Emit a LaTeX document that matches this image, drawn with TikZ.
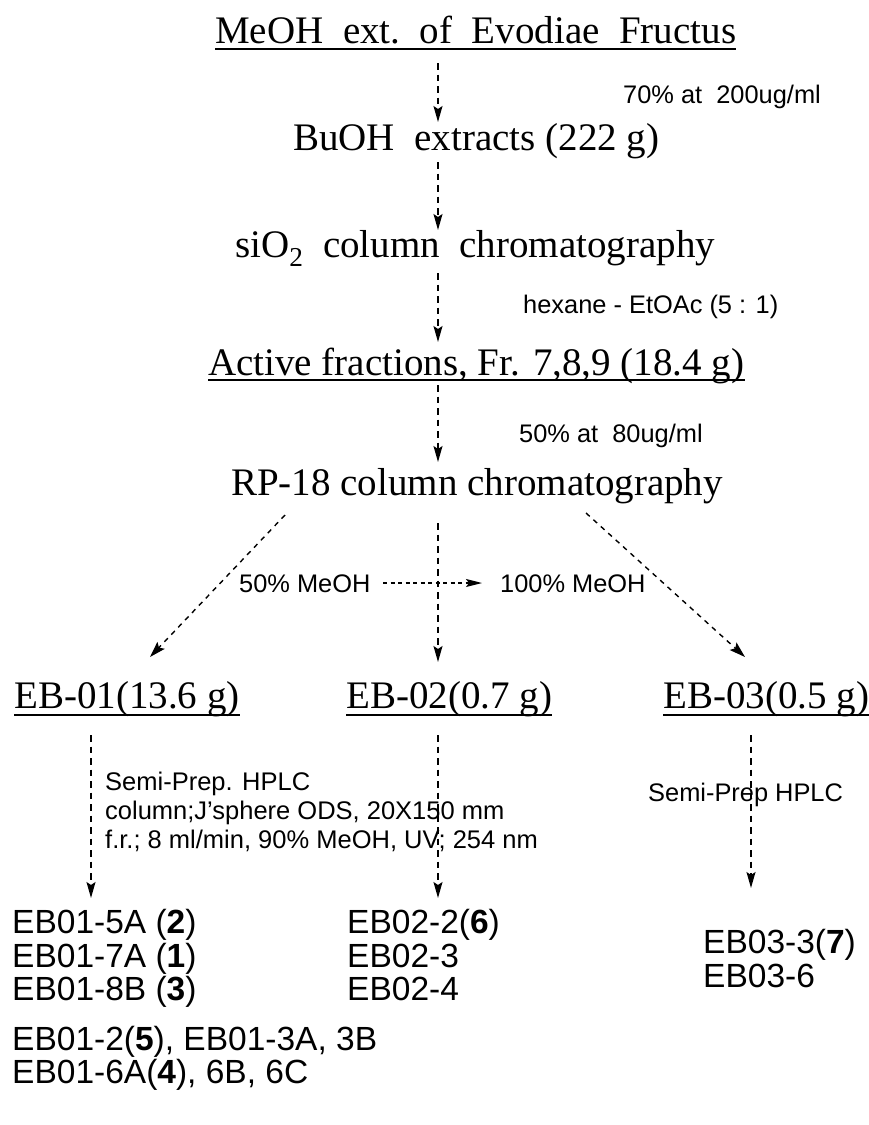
\documentclass[tikz,border=0pt]{standalone}
\usepackage{fontspec}
\setmainfont{Liberation Serif}
\setsansfont{Liberation Sans}
\usetikzlibrary{arrows.meta}
\begin{document}
\begin{tikzpicture}[x=1pt,y=1pt,
  serif/.style={anchor=base west,inner sep=0pt,font=\fontsize{39}{39}\selectfont\rmfamily},
  lab/.style={anchor=base west,inner sep=0pt,font=\fontsize{25.4}{25.4}\selectfont\sffamily},
  small/.style={anchor=base west,inner sep=0pt,font=\fontsize{25.5}{25.5}\selectfont\sffamily},
  prod/.style={anchor=base west,inner sep=0pt,font=\fontsize{33.5}{33.5}\selectfont\sffamily},
  uline/.style={line width=1.8pt},
  flow/.style={line width=1.6pt,dash pattern=on 6.5pt off 5pt,-{Stealth[length=16pt,width=9pt,inset=3pt]}},
  diag/.style={line width=1.4pt,dash pattern=on 5pt off 5pt,-{Stealth[length=16pt,width=10pt,inset=3pt]}},
  hflow/.style={line width=1.4pt,dash pattern=on 4pt off 3.5pt,-{Stealth[length=16pt,width=8pt,inset=3pt]}}]
\useasboundingbox[fill=white] (0,0) rectangle (868,-1125);

% main serif nodes
\node[serif] (t1) at (215,-43) {MeOH~~ext.~~of~~Evodiae~~Fructus};
\node[serif] (t2) at (293,-150) {BuOH~~extracts (222 g)};
\node[serif] (t3) at (235,-257) {siO\textsubscript{2}~~column~~chromatography};
\node[serif] (t4) at (208,-375) {Active fractions, Fr. 7,8,9 (18.4 g)};
\node[serif] (t5) at (231,-495) {RP-18 column chromatography};
\node[serif] (e1) at (14,-708) {EB-01(13.6 g)};
\node[serif] (e2) at (346,-708) {EB-02(0.7 g)};
\node[serif] (e3) at (663,-708) {EB-03(0.5 g)};

% underlines
\draw[uline] ([yshift=-6pt]t1.base west) -- ([yshift=-6pt]t1.base east);
\draw[uline] ([yshift=-5pt]t4.base west) -- ([yshift=-5pt]t4.base east);
\draw[uline] ([yshift=-7pt]e1.base west) -- ([yshift=-7pt]e1.base east);
\draw[uline] ([yshift=-7pt]e2.base west) -- ([yshift=-7pt]e2.base east);
\draw[uline] ([yshift=-7pt]e3.base west) -- ([yshift=-7pt]e3.base east);

% side labels
\node[lab] (l1) at (623,-103) {70\% at~~200ug/ml};
\node[lab] (l2) at (523,-313) {hexane - EtOAc (5 : 1)};
\node[lab] (l3) at (519,-442) {50\% at~~80ug/ml};
\node[lab] (m1) at (239,-592) {50\% MeOH};
\node[lab] (m2) at (500,-592) {100\% MeOH};

\node[small] (h1) at (105,-790) {Semi-Prep. HPLC};
\node[small] (h2) at (105,-819) {column;J'sphere ODS, 20X150 mm};
\node[small] (h3) at (105,-848) {f.r.; 8 ml/min, 90\% MeOH, UV; 254 nm};
\node[lab] (h4) at (648,-801) {Semi-Prep HPLC};

% products
\node[prod] (p1) at (12,-933) {EB01-5A (\textbf{2})};
\node[prod] (p2) at (12,-967) {EB01-7A (\textbf{1})};
\node[prod] (p3) at (12,-1000) {EB01-8B (\textbf{3})};
\node[prod] (p4) at (12,-1050) {EB01-2(\textbf{5}), EB01-3A, 3B};
\node[prod] (p5) at (12,-1083) {EB01-6A(\textbf{4}), 6B, 6C};
\node[prod] (q1) at (347,-933) {EB02-2(\textbf{6})};
\node[prod] (q2) at (347,-967) {EB02-3};
\node[prod] (q3) at (347,-1000) {EB02-4};
\node[prod] (r1) at (703,-953) {EB03-3(\textbf{7})};
\node[prod] (r2) at (703,-987) {EB03-6};

% connector end points
\coordinate (a1s) at (438,-63);  \coordinate (a1e) at (438,-122);
\coordinate (a2s) at (438,-162); \coordinate (a2e) at (438,-230);
\coordinate (a3s) at (438,-273); \coordinate (a3e) at (438,-342);
\coordinate (a4s) at (438,-385); \coordinate (a4e) at (438,-462);
\coordinate (bls) at (285,-515); \coordinate (ble) at (150,-657);
\coordinate (bms) at (438,-523); \coordinate (bme) at (438,-662);
\coordinate (brs) at (586,-513); \coordinate (bre) at (745,-657);
\coordinate (hs) at (383,-583);  \coordinate (he) at (482,-583);
\coordinate (cls) at (91,-735);  \coordinate (cle) at (91,-898);
\coordinate (cms) at (438,-735); \coordinate (cme) at (438,-898);
\coordinate (crs) at (751,-735); \coordinate (cre) at (751,-888);

\draw[flow] (a1s) -- (a1e);
\draw[flow] (a2s) -- (a2e);
\draw[flow] (a3s) -- (a3e);
\draw[flow] (a4s) -- (a4e);
\draw[diag] (bls) -- (ble);
\draw[flow] (bms) -- (bme);
\draw[diag] (brs) -- (bre);
\draw[hflow] (hs) -- (he);
\draw[flow] (cls) -- (cle);
\draw[flow] (cms) -- (cme);
\draw[flow] (crs) -- (cre);
\end{tikzpicture}
\end{document}
